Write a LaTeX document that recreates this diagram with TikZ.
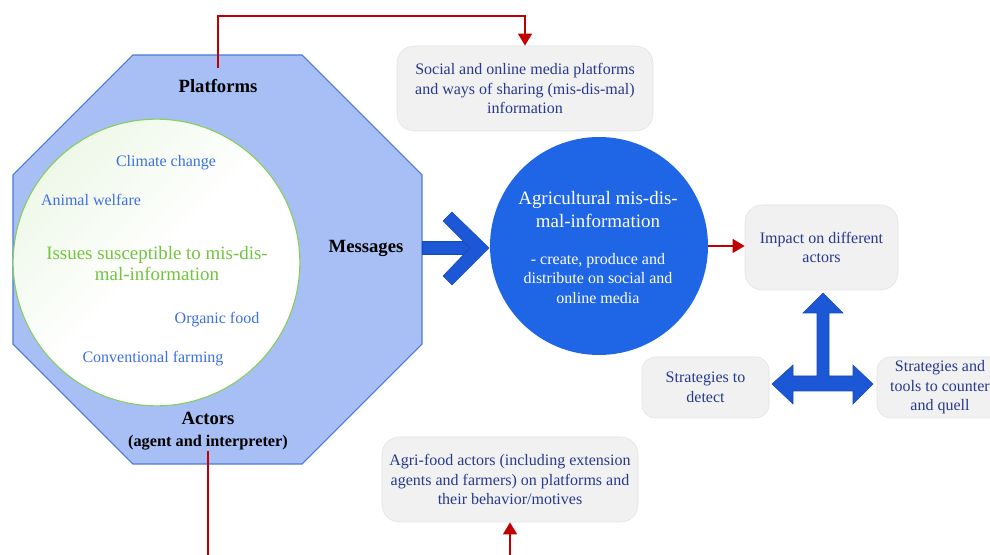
\documentclass[tikz,border=0pt]{standalone}
\usepackage{fontspec}
\setmainfont{Liberation Serif}
\usetikzlibrary{shapes.geometric,arrows.meta}
\definecolor{octfill}{HTML}{A7BFF4}
\definecolor{octline}{HTML}{4A78D8}
\definecolor{issuegreen}{HTML}{72C43E}
\definecolor{topicblue}{HTML}{3D70E0}
\definecolor{boxtext}{HTML}{26398C}
\definecolor{boxfill}{HTML}{F1F1F1}
\definecolor{boxline}{HTML}{E2E2E2}
\definecolor{coreblue}{HTML}{1F66E6}
\definecolor{arrowblue}{HTML}{1C57D6}
\definecolor{linkred}{HTML}{C00000}

\begin{document}
\begin{tikzpicture}[x=0.75pt,y=-0.75pt,
  infobox/.style={draw=boxline, fill=boxfill, rounded corners=13pt, text=boxtext,
    align=center, font=\fontsize{12}{14.6}\selectfont, inner sep=0pt},
  topic/.style={text=topicblue, font=\fontsize{12}{14}\selectfont, inner sep=0pt},
  heading/.style={font=\fontsize{14}{16}\selectfont\bfseries, inner sep=0pt},
  redlink/.style={draw=linkred, line width=2.2pt, -{Triangle[length=9pt,width=10pt]}},
  bigarrow/.style={fill=arrowblue, draw=arrowblue!85!black, line width=0.4pt, line join=miter}
]
\useasboundingbox (0,0) rectangle (990,555);

% the octagon holding platforms, messages and actors
\node[regular polygon, regular polygon sides=8, minimum size=332pt, inner sep=0pt,
  outer sep=0pt, fill=octfill, draw=octline, line width=0.8pt] (oct) at (217.5,259.5) {};

% circle of issues
\node[circle, minimum size=215pt, inner sep=0pt, draw=issuegreen!85, line width=0.8pt,
  shading=axis, top color=issuegreen!12!white, bottom color=white, middle color=white,
  shading angle=45] (iss) at (156.5,262.5) {};

\node[topic] (clim) at (166,163) {Climate change};
\node[topic] (anim) at (91,200) {Animal welfare};
\node[text=issuegreen, align=center, font=\fontsize{14.2}{16}\selectfont, inner sep=0pt]
  (issues) at (157,263.5) {Issues susceptible to mis-dis-\\mal-information};
\node[topic] (org) at (217,320) {Organic food};
\node[topic] (conv) at (153,359) {Conventional farming};

% headings on the octagon
\node[heading] (plat) at (218,86) {Platforms};
\node[heading] (msg) at (366,248) {Messages};
\node[heading, align=center] (act) at (208,431)
  {Actors\\[1pt]{\fontsize{12.2}{14}\selectfont (agent and interpreter)}};

% central circle
\node[circle, fill=coreblue, minimum size=163.5pt, inner sep=0pt] (core) at (599,246) {};
\node[text=white, align=center, font=\fontsize{14.2}{17}\selectfont, inner sep=0pt]
  (coretitle) at (598,209.5) {Agricultural mis-dis-\\mal-information};
\node[text=white, align=center, font=\fontsize{12}{14.6}\selectfont, inner sep=0pt]
  (coresub) at (598,278.5) {- create, produce and\\distribute on social and\\online media};

% grey boxes
\node[infobox, minimum width=192pt, minimum height=63.75pt] (soc) at (525,88.5)
  {Social and online media platforms\\and ways of sharing (mis-dis-mal)\\information};
\node[infobox, minimum width=114.75pt, minimum height=63.75pt] (imp) at (821.5,247.5)
  {Impact on different\\actors};
\node[infobox, rounded corners=10pt, minimum width=95.25pt, minimum height=45.75pt] (det) at (705.5,387.5)
  {Strategies to\\detect};
\node[infobox, rounded corners=10pt, minimum width=94.5pt, minimum height=45.75pt] (ctr) at (940,387.5)
  {Strategies and\\tools to counter\\and quell};
\node[infobox, minimum width=192pt, minimum height=63.75pt] (agri) at (510,479.5)
  {Agri-food actors (including extension\\agents and farmers) on platforms and\\their behavior/motives};

% red connectors
\coordinate (toprail) at (525,16);
\coordinate (botrail) at (208,600);
\draw[redlink] ([yshift=8pt]plat.north) |- (toprail) -- (soc.north);
\draw[redlink] (act.south) -- (botrail) -| (agri.south);
\draw[redlink] (core.east) -- (core.east -| imp.west);

% block arrow from the octagon into the central circle
\path[bigarrow] (422,241) rectangle (476,254);
\path[bigarrow] (452,212) -- (489,248) -- (452,285) -- (443,276) -- (470,248) -- (443,221) -- cycle;

% three-headed block arrow
\path[bigarrow] (823,293) -- (843,313) -- (829,313) -- (829,376) -- (853,376) -- (853,365)
  -- (873,384) -- (853,404) -- (853,391) -- (793,391) -- (793,404) -- (772,384)
  -- (793,365) -- (793,376) -- (817,376) -- (817,313) -- (803,313) -- cycle;
\end{tikzpicture}
\end{document}
